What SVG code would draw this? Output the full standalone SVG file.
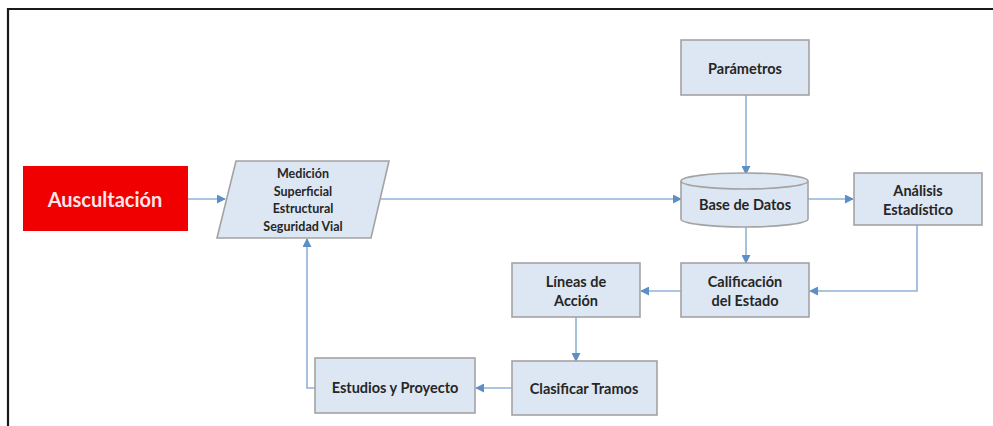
<svg xmlns="http://www.w3.org/2000/svg" width="993" height="426" viewBox="0 0 993 426">
<style>
.box{fill:#dde7f3;stroke:#a3a3a3;stroke-width:1.6}
.t{font-family:Lato,"Liberation Sans",sans-serif;font-weight:bold;font-size:14.5px;fill:#262626;text-anchor:middle;dominant-baseline:central}
.s{font-size:12.5px}
.c{fill:none;stroke:#8fb2d8;stroke-width:1.6}
</style>
<defs>
<marker id="ah" viewBox="0 0 10 10" refX="9" refY="5" markerWidth="9" markerHeight="9" markerUnits="userSpaceOnUse" orient="auto">
<path d="M0,0 L10,5 L0,10 z" fill="#5b8fc6"/>
</marker>
</defs>
<rect x="0" y="0" width="993" height="426" fill="#fff"/>
<path d="M8,426 V9 H993" fill="none" stroke="#1a1a1a" stroke-width="2.2"/>
<g id="connectors">
<path class="c" d="M188,199 H225" marker-end="url(#ah)"/>
<path class="c" d="M381,199 H681" marker-end="url(#ah)"/>
<path class="c" d="M746,95 V174" marker-end="url(#ah)"/>
<path class="c" d="M808,199 H853" marker-end="url(#ah)"/>
<path class="c" d="M746,227 V263" marker-end="url(#ah)"/>
<path class="c" d="M917,225 V291 H810" marker-end="url(#ah)"/>
<path class="c" d="M681,291 H641" marker-end="url(#ah)"/>
<path class="c" d="M576,317 V361" marker-end="url(#ah)"/>
<path class="c" d="M512,388 H476" marker-end="url(#ah)"/>
<path class="c" d="M315,388 H307 V239" marker-end="url(#ah)"/>
</g>
<g id="auscultacion">
<rect x="23" y="166" width="165" height="65" fill="#f00000"/>
<text class="t" x="105" y="199" style="font-size:20px;fill:#ffe6e6">Auscultación</text>
</g>
<g id="medicion">
<path class="box" d="M236,161 H389 L371,238 H217 Z"/>
<text class="t s" x="303" y="173">Medición</text>
<text class="t s" x="303" y="191">Superficial</text>
<text class="t s" x="303" y="208">Estructural</text>
<text class="t s" x="303" y="226">Seguridad Vial</text>
</g>
<g id="parametros">
<rect class="box" x="681" y="40" width="128" height="55"/>
<text class="t" x="745" y="68">Parámetros</text>
</g>
<g id="base-de-datos">
<path class="box" d="M681,181 V219 A63.5,8 0 0 0 808,219 V181 A63.5,8 0 0 0 681,181 Z"/>
<path class="box" d="M681,181 A63.5,8 0 0 0 808,181" fill="none"/>
<text class="t" x="745" y="204">Base de Datos</text>
</g>
<g id="analisis">
<rect class="box" x="854" y="173" width="128" height="52"/>
<text class="t" x="918" y="190">Análisis</text>
<text class="t" x="918" y="209">Estadístico</text>
</g>
<g id="calificacion">
<rect class="box" x="681" y="263" width="128" height="54"/>
<text class="t" x="745" y="281">Calificación</text>
<text class="t" x="745" y="300">del Estado</text>
</g>
<g id="lineas">
<rect class="box" x="512" y="263" width="128" height="54"/>
<text class="t" x="576" y="281">Líneas de</text>
<text class="t" x="576" y="300">Acción</text>
</g>
<g id="clasificar">
<rect class="box" x="512" y="361" width="145" height="54"/>
<text class="t" x="584" y="388">Clasificar Tramos</text>
</g>
<g id="estudios">
<rect class="box" x="315" y="358" width="160" height="55"/>
<text class="t" x="395" y="387">Estudios y Proyecto</text>
</g>
</svg>
